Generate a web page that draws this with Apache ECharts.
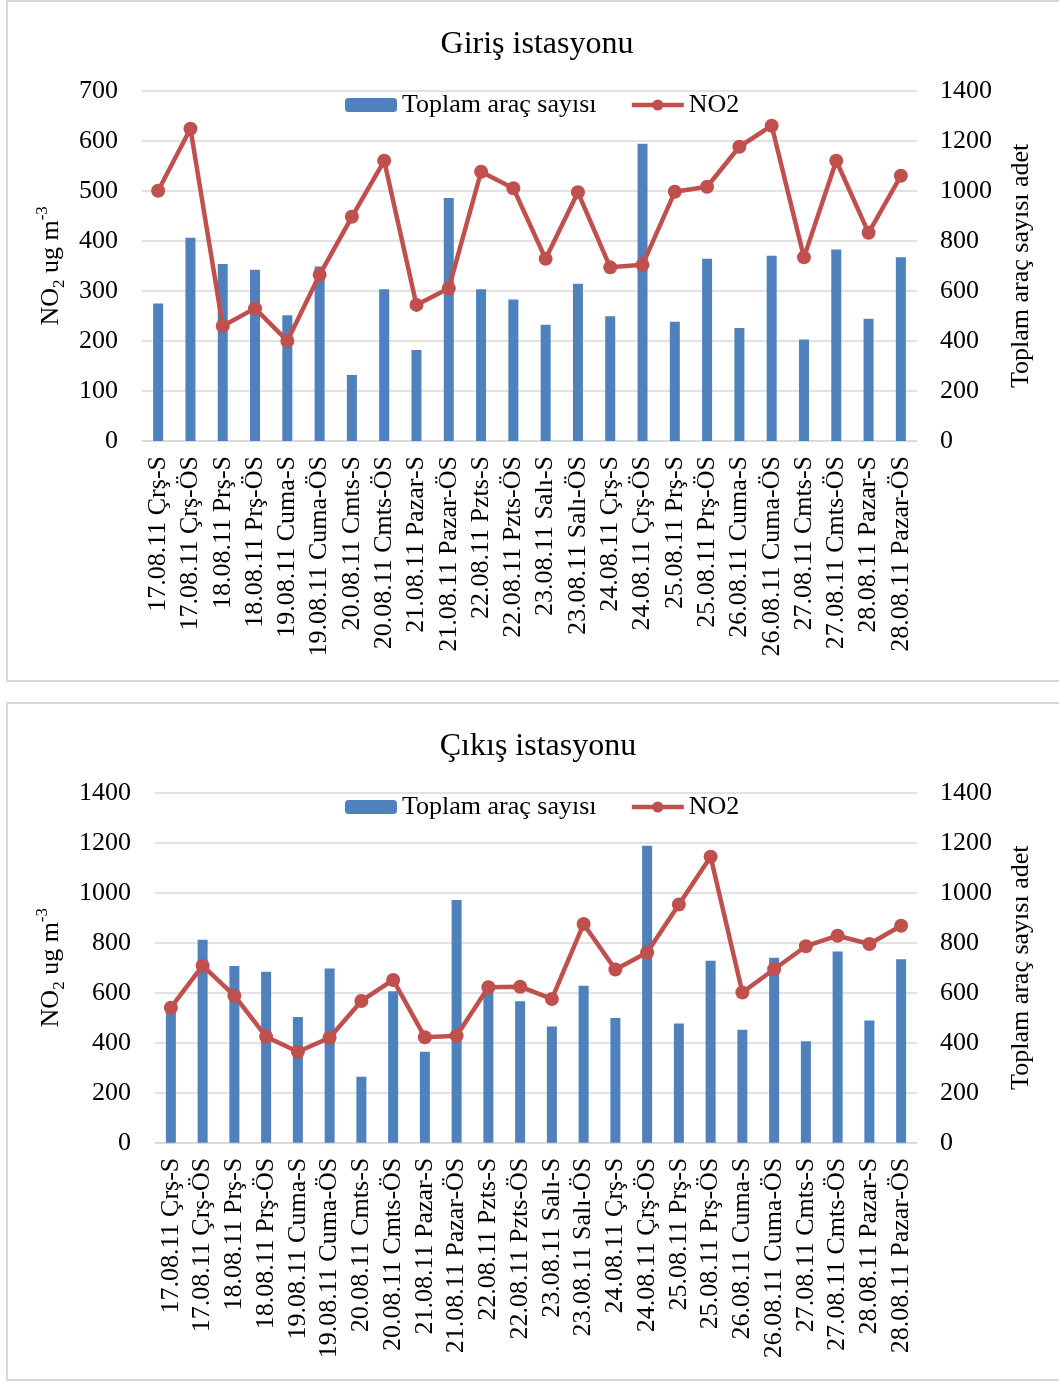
<!DOCTYPE html>
<html>
<head>
<meta charset="utf-8">
<script src="https://cdn.jsdelivr.net/npm/echarts@6/dist/echarts.min.js"></script>
<style>
html,body{margin:0;padding:0;background:#fff;}
#c{width:1059px;height:1382px;}
</style>
</head>
<body>
<div id="c"></div>
<script>
const categories = [
  "17.08.11 Çrş-S","17.08.11 Çrş-ÖS","18.08.11 Prş-S","18.08.11 Prş-ÖS",
  "19.08.11 Cuma-S","19.08.11 Cuma-ÖS","20.08.11 Cmts-S","20.08.11 Cmts-ÖS",
  "21.08.11 Pazar-S","21.08.11 Pazar-ÖS","22.08.11 Pzts-S","22.08.11 Pzts-ÖS",
  "23.08.11 Salı-S","23.08.11 Salı-ÖS","24.08.11 Çrş-S","24.08.11 Çrş-ÖS",
  "25.08.11 Prş-S","25.08.11 Prş-ÖS","26.08.11 Cuma-S","26.08.11 Cuma-ÖS",
  "27.08.11 Cmts-S","27.08.11 Cmts-ÖS","28.08.11 Pazar-S","28.08.11 Pazar-ÖS"
];
const vehicles = [550, 812, 707, 684, 503, 697, 264, 606, 364, 971, 606, 566, 465, 628, 499, 1188, 477, 728, 452, 740, 406, 765, 489, 734];
const no2Giris = [500, 624, 230, 265, 200, 332, 448, 560, 272, 305, 538, 505, 364, 497, 347, 352, 498, 508, 588, 630, 367, 560, 416, 530];
const no2Cikis = [540, 708, 588, 424, 364, 420, 567, 651, 422, 428, 622, 624, 575, 875, 693, 761, 953, 1144, 601, 694, 786, 828, 795, 868];
const titles = ["Giriş istasyonu", "Çıkış istasyonu"];
const seriesNames = ["Toplam araç sayısı", "NO2"];
const leftAxisName = "{a|NO}{sub|2}{a| ug m}{sup|-3}";
const rightAxisName = "Toplam araç sayısı adet";

const FONT = "'Liberation Serif','Times New Roman',serif";
const BAR = "#4F81BD", LINE = "#C0504D", GRID = "#d9d9d9";
const FS = 26;

const chart = echarts.init(document.getElementById('c'));

const nameRich = {
  a: {fontSize: FS, fontFamily: FONT, color: '#000', lineHeight: 34},
  sub: {fontSize: 17, fontFamily: FONT, color: '#000', lineHeight: 17, verticalAlign: 'bottom'},
  sup: {fontSize: 17, fontFamily: FONT, color: '#000', lineHeight: 17, verticalAlign: 'top'}
};

function valAxis(gridIndex, max, interval, pos, name, nameGap, split) {
  return {
    type: 'value', gridIndex: gridIndex, position: pos, min: 0, max: max, interval: interval,
    axisLine: {show: false}, axisTick: {show: false},
    axisLabel: {fontSize: FS, fontFamily: FONT, color: '#000', margin: pos === 'left' ? 24 : 23,
                formatter: function (v) { return String(v); }},
    splitLine: {show: split, lineStyle: {color: GRID, width: 1.5}},
    name: name, nameLocation: 'middle', nameRotate: 90, nameGap: nameGap,
    nameTextStyle: pos === 'left' ? {rich: nameRich, fontSize: FS, fontFamily: FONT, color: '#000'}
                                  : {fontSize: FS, fontFamily: FONT, color: '#000'}
  };
}
function catAxis(gridIndex) {
  return {
    type: 'category', gridIndex: gridIndex, data: categories,
    axisLine: {show: true, lineStyle: {color: GRID, width: 1.5}},
    axisTick: {show: false},
    axisLabel: {rotate: 90, interval: 0, fontSize: FS, fontFamily: FONT, color: '#000', margin: 15}
  };
}
function legendData() {
  return [
    {name: seriesNames[0]},
    {name: seriesNames[1], lineStyle: {width: 4.5, color: LINE}, itemStyle: {color: LINE}}
  ];
}

const option = {
  animation: false,
  backgroundColor: '#fff',
  graphic: [
    {type: 'rect', shape: {x: 7, y: 1, width: 1070, height: 680}, style: {fill: 'none', stroke: GRID, lineWidth: 2}, silent: true},
    {type: 'rect', shape: {x: 7, y: 703, width: 1070, height: 677}, style: {fill: 'none', stroke: GRID, lineWidth: 2}, silent: true}
  ],
  title: [
    {text: titles[0], left: 532, top: 24, textAlign: 'center', textStyle: {fontSize: 32, fontWeight: 'normal', fontFamily: FONT, color: '#000'}},
    {text: titles[1], left: 533, top: 726, textAlign: 'center', textStyle: {fontSize: 32, fontWeight: 'normal', fontFamily: FONT, color: '#000'}}
  ],
  legend: [
    {data: legendData(), left: 340, top: 87, itemWidth: 52, itemHeight: 14, itemGap: 33,
     textStyle: {fontSize: FS, fontFamily: FONT, color: '#000'}},
    {data: legendData(), left: 340, top: 789, itemWidth: 52, itemHeight: 14, itemGap: 33,
     textStyle: {fontSize: FS, fontFamily: FONT, color: '#000'}}
  ],
  grid: [
    {left: 142, right: 142, top: 90.7, height: 350.3},
    {left: 155, right: 142, top: 792.7, height: 350}
  ],
  xAxis: [catAxis(0), catAxis(1)],
  yAxis: [
    valAxis(0, 700, 100, 'left', leftAxisName, 71, true),
    valAxis(0, 1400, 200, 'right', rightAxisName, 91, false),
    valAxis(1, 1400, 200, 'left', leftAxisName, 83, true),
    valAxis(1, 1400, 200, 'right', rightAxisName, 91, false)
  ],
  series: [
    {name: seriesNames[0], type: 'bar', xAxisIndex: 0, yAxisIndex: 1, data: vehicles, barWidth: 10, itemStyle: {color: BAR}},
    {name: seriesNames[1], type: 'line', xAxisIndex: 0, yAxisIndex: 0, data: no2Giris, symbol: 'circle', symbolSize: 14,
     lineStyle: {color: LINE, width: 4.5}, itemStyle: {color: LINE}, z: 3},
    {name: seriesNames[0], type: 'bar', xAxisIndex: 1, yAxisIndex: 3, data: vehicles, barWidth: 10, itemStyle: {color: BAR}},
    {name: seriesNames[1], type: 'line', xAxisIndex: 1, yAxisIndex: 2, data: no2Cikis, symbol: 'circle', symbolSize: 14,
     lineStyle: {color: LINE, width: 4.5}, itemStyle: {color: LINE}, z: 3}
  ]
};
chart.setOption(option);
</script>
</body>
</html>
